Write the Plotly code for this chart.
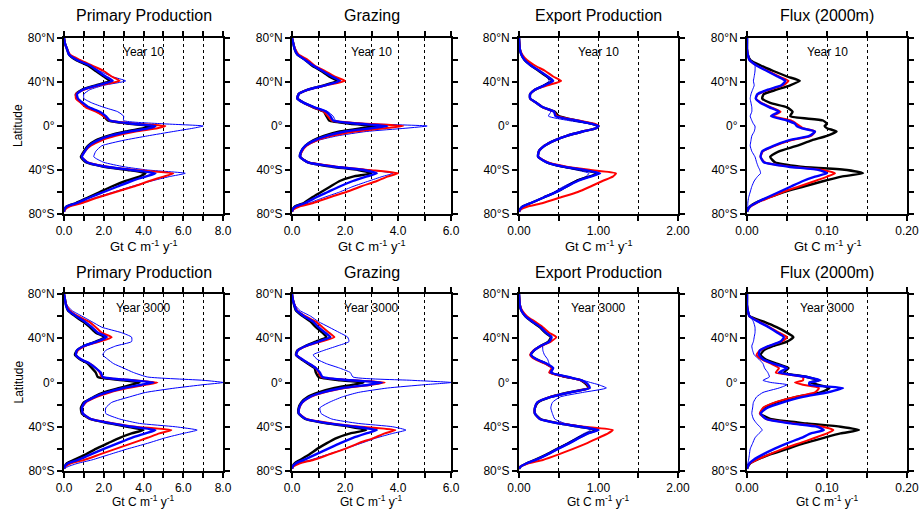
import plotly.graph_objects as go

# Latitude grid (degrees, + = N)
LAT = [80, 75, 70, 65, 60, 55, 50, 45, 41, 37, 33, 29, 25, 21, 17, 13, 9, 5, 2, 0,
       -2, -5, -9, -13, -18, -23, -28, -33, -37, -40, -43, -46, -50, -55, -60, -65, -70, -73, -76, -78]

# ---- Year 10 ----
PP10_BLACK = [0, .05, .15, .25, .6, 1.2, 1.6, 2.0, 2.3, 1.6, .9, .6, .65, .9, 1.2, 1.7, 2.0, 2.2, 3.3, 4.4,
              4.0, 3.1, 2.2, 1.6, 1.2, 1.0, .85, 1.1, 2.0, 3.2, 4.1, 3.8, 3.1, 2.4, 1.8, 1.2, .6, .15, .02, 0]
PP10_RED = [0, .05, .15, .3, .8, 1.4, 2.0, 2.4, 2.8, 1.8, 1.0, .6, .6, .85, 1.1, 1.6, 2.0, 2.3, 3.6, 5.1,
            4.7, 3.6, 2.6, 1.9, 1.35, 1.05, .9, 1.2, 2.2, 3.6, 5.5, 5.0, 4.3, 3.5, 2.6, 1.7, .9, .3, .05, 0]
PP10_BLUE = [0, .05, .15, .25, .65, 1.3, 1.7, 2.1, 2.45, 1.7, .95, .65, .7, .95, 1.25, 1.8, 2.1, 2.3, 3.5, 4.6,
             4.3, 3.3, 2.3, 1.7, 1.25, 1.05, .9, 1.15, 2.1, 3.4, 4.6, 4.1, 3.4, 2.7, 2.0, 1.3, .65, .15, .02, 0]
PP10_THIN = [0, .05, .15, .3, .6, 1.2, 1.8, 2.4, 3.1, 2.0, 1.3, 1.0, 1.0, 1.4, 2.0, 2.7, 3.0, 3.0, 5.0, 7.0,
             6.5, 5.5, 4.2, 3.0, 1.9, 1.6, 1.5, 2.0, 3.0, 4.2, 6.1, 5.3, 4.4, 3.4, 2.5, 1.6, .8, .2, .03, 0]

GR10_BLACK = [0, .05, .1, .2, .5, .75, 1.1, 1.4, 1.7, 1.2, .6, .25, .2, .45, .8, 1.2, 1.3, 1.4, 2.2, 3.2,
              2.6, 1.8, 1.2, .8, .5, .35, .3, .6, 1.5, 2.5, 3.0, 2.3, 1.8, 1.45, 1.1, .75, .45, .12, .02, 0]
GR10_RED = [0, .05, .12, .25, .6, .85, 1.25, 1.6, 2.0, 1.3, .6, .25, .2, .45, .8, 1.2, 1.35, 1.5, 2.8, 4.2,
            3.5, 2.4, 1.5, .95, .55, .38, .3, .6, 1.7, 2.9, 4.0, 3.6, 3.2, 2.6, 2.05, 1.4, .8, .3, .05, 0]
GR10_BLUE = [0, .05, .1, .2, .5, .8, 1.15, 1.5, 1.8, 1.25, .6, .25, .2, .45, .85, 1.3, 1.45, 1.55, 2.5, 3.6,
             3.0, 2.0, 1.3, .85, .5, .35, .3, .6, 1.6, 2.7, 3.2, 2.8, 2.3, 1.8, 1.35, .9, .5, .15, .02, 0]
GR10_THIN = [0, .05, .1, .2, .5, .8, 1.15, 1.5, 1.85, 1.3, .65, .28, .25, .5, .9, 1.35, 1.55, 1.65, 3.0, 5.1,
             4.3, 2.8, 1.7, 1.0, .55, .38, .35, .65, 1.7, 2.9, 3.8, 3.4, 2.9, 2.3, 1.8, 1.2, .65, .2, .03, 0]

EX10_BLACK = [0, .005, .01, .03, .07, .15, .25, .35, .42, .32, .2, .14, .14, .22, .3, .45, .5, .72, .92, 1.0,
              .97, .8, .6, .45, .32, .25, .24, .35, .55, .8, 1.0, .88, .72, .6, .47, .31, .15, .05, .01, 0]
EX10_RED = [0, .005, .01, .04, .1, .2, .33, .43, .53, .36, .2, .14, .14, .22, .3, .44, .48, .75, .95, 1.0,
            .97, .8, .6, .45, .32, .25, .24, .36, .6, .9, 1.22, 1.18, 1.05, .9, .74, .52, .3, .12, .02, 0]
EX10_BLUE = [0, .005, .01, .03, .07, .15, .26, .36, .43, .32, .2, .14, .14, .22, .3, .44, .46, .72, .92, 1.0,
             .97, .8, .6, .45, .32, .25, .24, .35, .56, .82, 1.02, .9, .74, .6, .47, .31, .15, .05, .01, 0]
EX10_THIN = [0, .005, .01, .03, .07, .15, .25, .34, .38, .3, .2, .14, .14, .22, .3, .4, .37, .62, .88, .97,
             .97, .8, .6, .45, .32, .25, .24, .34, .52, .72, .88, .84, .7, .56, .44, .3, .15, .05, .01, 0]

FL10_BLACK = [0, 0, 0, .001, .004, .017, .033, .05, .066, .054, .037, .021, .019, .029, .05, .057, .054, .095, .1, .097,
              .1, .112, .1, .081, .062, .04, .029, .035, .067, .125, .145, .118, .096, .071, .046, .027, .01, .004, .001, 0]
FL10_RED = [0, 0, 0, .001, .003, .012, .026, .04, .052, .045, .028, .014, .011, .018, .03, .042, .032, .055, .062, .066,
            .07, .085, .08, .055, .035, .02, .017, .022, .055, .095, .11, .1, .085, .065, .045, .028, .012, .005, .001, 0]
FL10_BLUE = [0, 0, 0, .001, .003, .012, .025, .038, .048, .043, .026, .013, .011, .017, .028, .04, .03, .05, .06, .062,
             .068, .085, .078, .052, .033, .019, .017, .021, .052, .09, .1, .085, .07, .055, .04, .025, .011, .004, .001, 0]
FL10_THIN = [0, 0, 0, .001, .005, .01, .01, .009, .008, .009, .007, .005, .004, .005, .006, .006, .004, .006, .008, .01,
             .01, .009, .006, .005, .004, .006, .01, .012, .014, .016, .017, .013, .009, .006, .004, .002, .001, .001, 0, 0]

# ---- Year 3000 ----
PP3K_BLACK = [0, .05, .1, .2, .55, .95, 1.3, 1.6, 2.05, 1.6, 1.0, .65, .55, .8, 1.2, 1.4, 1.6, 1.7, 3.0, 3.8,
              3.4, 2.8, 2.0, 1.5, 1.0, .85, .9, 1.3, 2.3, 3.2, 4.0, 3.4, 2.8, 2.2, 1.6, 1.1, .5, .15, .03, 0]
PP3K_RED = [0, .05, .12, .3, .7, 1.25, 1.6, 1.9, 2.4, 1.8, 1.05, .7, .6, .85, 1.3, 1.6, 1.8, 1.9, 3.5, 4.7,
            4.1, 3.2, 2.3, 1.65, 1.1, .9, .95, 1.35, 2.5, 3.6, 5.4, 4.8, 4.2, 3.4, 2.6, 1.8, 1.0, .35, .05, 0]
PP3K_BLUE = [0, .05, .1, .22, .6, 1.05, 1.4, 1.7, 2.15, 1.65, 1.0, .65, .6, .85, 1.3, 1.6, 1.85, 1.95, 3.4, 4.5,
             3.9, 3.0, 2.15, 1.55, 1.05, .9, .95, 1.35, 2.4, 3.4, 4.6, 4.1, 3.4, 2.7, 2.0, 1.35, .7, .2, .03, 0]
PP3K_THIN = [0, .05, .15, .4, .9, 1.4, 1.9, 2.9, 3.4, 3.4, 2.6, 2.1, 1.95, 2.2, 2.5, 3.0, 3.5, 4.2, 7.0, 8.0,
             7.0, 5.6, 4.1, 3.3, 2.4, 2.1, 2.1, 2.8, 3.8, 5.6, 6.7, 6.0, 5.1, 4.2, 3.2, 2.3, 1.4, .7, .2, 0]

GR3K_BLACK = [0, .03, .08, .15, .4, .7, .9, 1.15, 1.3, .9, .5, .2, .15, .35, .6, .85, .9, 1.0, 1.8, 2.7,
              2.3, 1.6, 1.0, .6, .35, .25, .25, .5, 1.3, 2.2, 2.8, 2.2, 1.7, 1.3, .95, .65, .3, .1, .02, 0]
GR3K_RED = [0, .03, .1, .2, .5, .9, 1.15, 1.4, 1.6, 1.1, .55, .22, .16, .38, .65, .9, 1.0, 1.1, 2.3, 3.5,
            3.0, 2.0, 1.2, .7, .4, .28, .27, .55, 1.5, 2.6, 3.9, 3.5, 3.1, 2.5, 2.0, 1.4, .8, .3, .05, 0]
GR3K_BLUE = [0, .03, .09, .17, .45, .8, 1.0, 1.25, 1.45, 1.0, .52, .22, .16, .38, .65, .9, 1.05, 1.15, 2.2, 3.4,
             2.9, 1.9, 1.15, .68, .38, .27, .26, .52, 1.4, 2.4, 3.2, 2.8, 2.3, 1.8, 1.35, .9, .45, .15, .02, 0]
GR3K_THIN = [0, .05, .12, .3, .7, 1.0, 1.4, 1.8, 2.1, 2.15, 1.7, 1.2, .8, .95, 1.3, 1.8, 2.2, 2.3, 4.5, 6.0,
             5.0, 3.6, 2.5, 1.9, 1.4, 1.05, 1.1, 1.5, 2.5, 3.8, 4.3, 3.8, 3.2, 2.6, 2.0, 1.35, .7, .2, .03, 0]

EX3K_BLACK = [0, .005, .01, .03, .08, .16, .26, .33, .4, .37, .27, .19, .15, .22, .34, .42, .39, .6, .78, .82,
              .85, .88, .62, .4, .24, .2, .2, .27, .5, .76, .98, .86, .75, .62, .48, .35, .2, .1, .02, 0]
EX3K_RED = [0, .005, .012, .04, .1, .2, .3, .38, .47, .4, .28, .18, .14, .2, .33, .41, .38, .6, .78, .83,
            .86, .88, .64, .39, .23, .2, .2, .26, .52, .82, 1.18, 1.12, 1.0, .85, .68, .5, .3, .12, .02, 0]
EX3K_BLUE = [0, .005, .01, .03, .08, .17, .27, .34, .41, .38, .27, .19, .15, .22, .35, .43, .4, .62, .79, .84,
             .87, .89, .64, .4, .23, .2, .2, .26, .5, .77, 1.0, .87, .76, .63, .49, .36, .21, .1, .02, 0]
EX3K_THIN = [0, .005, .01, .03, .08, .17, .27, .34, .4, .37, .3, .3, .32, .36, .38, .42, .42, .55, .8, .9,
             1.0, 1.1, .8, .52, .42, .4, .42, .45, .58, .82, .9, .82, .72, .6, .47, .34, .2, .08, .02, 0]

FL3K_BLACK = [0, 0, 0, .001, .003, .021, .037, .05, .058, .05, .033, .021, .017, .023, .037, .052, .046, .075, .09, .079,
              .088, .103, .092, .062, .037, .021, .017, .029, .075, .117, .14, .117, .096, .071, .05, .029, .012, .004, .001, 0]
FL3K_RED = [0, 0, 0, .001, .003, .015, .028, .04, .05, .043, .028, .016, .012, .018, .03, .04, .036, .07, .07, .06,
            .07, .09, .085, .06, .035, .02, .016, .024, .06, .095, .108, .1, .085, .065, .045, .028, .012, .004, .001, 0]
FL3K_BLUE = [0, 0, 0, .001, .003, .014, .027, .038, .046, .042, .027, .016, .015, .02, .033, .05, .04, .075, .092, .078,
             .078, .12, .1, .07, .045, .025, .017, .024, .055, .088, .096, .08, .068, .05, .034, .02, .008, .003, .001, 0]
FL3K_THIN = [0, 0, 0, .001, .004, .008, .01, .01, .009, .008, .006, .007, .009, .015, .02, .022, .026, .028, .02, .03,
             .05, .04, .02, .012, .008, .007, .006, .008, .012, .016, .019, .015, .01, .007, .004, .003, .002, .001, 0, 0]

TITLES = ["Primary Production", "Grazing", "Export Production", "Flux (2000m)"]
YEARS = ["Year 10", "Year 3000"]
X_MAJOR = [[0, 2, 4, 6, 8], [0, 2, 4, 6], [0, 1.0, 2.0], [0, 0.10, 0.20]]
X_MAJOR_LABELS = [["0.0", "2.0", "4.0", "6.0", "8.0"], ["0.0", "2.0", "4.0", "6.0"],
                  ["0.00", "1.00", "2.00"], ["0.00", "0.10", "0.20"]]
X_MINOR = [[1, 3, 5, 7], [1, 3, 5], [0.5, 1.5], [0.05, 0.15]]
Y_MAJOR = [-80, -40, 0, 40, 80]
Y_MAJOR_LABELS = ["80°S", "40°S", "0°", "40°N", "80°N"]
Y_MINOR = [-60, -20, 20, 60]
UNITS = "Gt C m<sup>-1</sup> y<sup>-1</sup>"

PANELS = [
    (PP10_BLACK, PP10_RED, PP10_BLUE, PP10_THIN), (GR10_BLACK, GR10_RED, GR10_BLUE, GR10_THIN),
    (EX10_BLACK, EX10_RED, EX10_BLUE, EX10_THIN), (FL10_BLACK, FL10_RED, FL10_BLUE, FL10_THIN),
    (PP3K_BLACK, PP3K_RED, PP3K_BLUE, PP3K_THIN), (GR3K_BLACK, GR3K_RED, GR3K_BLUE, GR3K_THIN),
    (EX3K_BLACK, EX3K_RED, EX3K_BLUE, EX3K_THIN), (FL3K_BLACK, FL3K_RED, FL3K_BLUE, FL3K_THIN),
]

W, H = 919, 509
X_PX = [(64, 223), (292, 451), (519, 678), (747, 907)]
Y_PX = [(38, 214), (294, 471)]
UNITS_Y = [246, 501]
UNITS_SIZE = [13, 12]
FONT = "Liberation Sans, Arial, sans-serif"

fig = go.Figure()
layout = dict(width=W, height=H, autosize=False, margin=dict(l=0, r=0, t=0, b=0, pad=0), showlegend=False,
              paper_bgcolor="white", plot_bgcolor="white",
              font=dict(family=FONT, size=12, color="black"))
annotations = []

for i, (blk, red, blu, thin) in enumerate(PANELS):
    row, col = divmod(i, 4)
    n = "" if i == 0 else str(i + 1)
    xa, ya = "x" + n, "y" + n
    x0, x1 = X_PX[col]
    y0, y1 = Y_PX[row]
    xmax = X_MAJOR[col][-1]
    line_spec = [(thin, "#0000ff", 1.0), (blk, "#000000", 2.4), (red, "#ff0000", 2.0), (blu, "#0000ff", 2.4)]
    for vals, colr, wd in line_spec:
        fig.add_trace(go.Scatter(x=vals, y=LAT, mode="lines", xaxis=xa, yaxis=ya, hoverinfo="skip",
                                 line=dict(color=colr, width=wd, shape="spline", smoothing=0.5)))
    layout["xaxis" + n] = dict(domain=[x0 / W, x1 / W], anchor=ya, range=[0, xmax], automargin=False,
                               tickmode="array", tickvals=X_MAJOR[col], ticktext=X_MAJOR_LABELS[col],
                               ticks="outside", ticklen=5, tickwidth=2, tickcolor="black",
                               minor=dict(tickmode="array", tickvals=X_MINOR[col], ticks="outside", ticklen=5,
                                          tickwidth=2, tickcolor="black", showgrid=True, gridcolor="black",
                                          gridwidth=1, griddash="dot"),
                               showline=True, linewidth=2, linecolor="black", mirror="ticks",
                               showgrid=True, gridcolor="black", gridwidth=1, griddash="dot",
                               ticklabeloverflow="allow",
                               zeroline=False, tickfont=dict(size=12, family=FONT))
    layout["yaxis" + n] = dict(domain=[1 - y1 / H, 1 - y0 / H], anchor=xa, range=[-80, 80], automargin=False,
                               tickmode="array", tickvals=Y_MAJOR, ticktext=Y_MAJOR_LABELS,
                               ticks="outside", ticklen=5, tickwidth=2, tickcolor="black",
                               minor=dict(tickmode="array", tickvals=Y_MINOR, ticks="outside", ticklen=5,
                                          tickwidth=2, tickcolor="black", showgrid=False),
                               showline=True, linewidth=2, linecolor="black", mirror="ticks",
                               ticklabeloverflow="allow",
                               showgrid=False, zeroline=False, tickfont=dict(size=12, family=FONT))
    cx = (x0 + x1) / 2 / W
    annotations.append(dict(text=TITLES[col], x=cx, y=1 - (y0 - 22) / H, xref="paper", yref="paper",
                            showarrow=False, font=dict(size=16, family=FONT), xanchor="center", yanchor="middle"))
    annotations.append(dict(text=YEARS[row], x=cx, y=1 - (y0 + 14) / H, xref="paper", yref="paper",
                            showarrow=False, font=dict(size=12, family=FONT), xanchor="center", yanchor="middle"))
    annotations.append(dict(text=UNITS, x=cx, y=1 - UNITS_Y[row] / H, xref="paper", yref="paper",
                            showarrow=False, font=dict(size=UNITS_SIZE[row], family=FONT),
                            xanchor="center", yanchor="middle"))
    if col == 0:
        annotations.append(dict(text="Latitude", x=18 / W, y=1 - (y0 + y1) / 2 / H, xref="paper", yref="paper",
                                showarrow=False, textangle=-90, font=dict(size=12, family=FONT),
                                xanchor="center", yanchor="middle"))

layout["annotations"] = annotations
fig.update_layout(**layout)
fig.write_html("out.html", config={"displayModeBar": False},
               post_script="document.body.style.margin='0';document.body.style.overflow='hidden';")
